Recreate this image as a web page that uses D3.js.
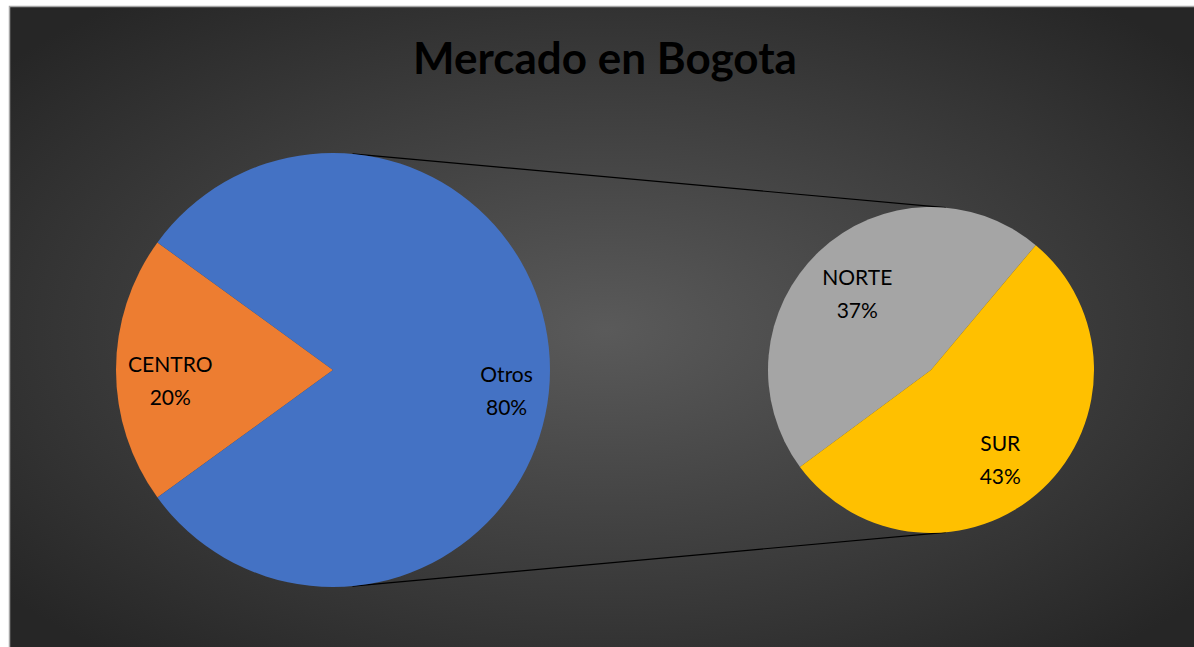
<!DOCTYPE html>
<html>
<head>
<meta charset="utf-8">
<script src="https://cdn.jsdelivr.net/npm/d3@7"></script>
<style>
  html, body { margin: 0; padding: 0; background: #fff; }
  svg { display: block; }
</style>
</head>
<body>
<svg></svg>
<script>
/** Chart data */
let mainCategories = ['CENTRO', 'Otros'];
let mainValues = [20, 80];
let subCategories = ['NORTE', 'SUR'];
let subValues = [37, 43];
let mainLabels = ['20%', '80%'];
let subLabels = ['37%', '43%'];
let colors = ['#ED7D31', '#4472C4'];
let subColors = ['#A5A5A5', '#FFC000'];

let width = 1194;
let height = 647;

let mainCenter = [333, 370];
let mainRadius = 217;
let subCenter = [931, 370];
let subRadius = 163;

let svg = d3.select('svg').attr('width', width).attr('height', height);

const deg = Math.PI / 180;

/** Background panel with a radial gradient */
const drawBackground = () => {
    let grad = svg.append('defs').append('radialGradient')
        .attr('id', 'bg')
        .attr('cx', '50%').attr('cy', '50%').attr('r', '65%');
    grad.append('stop').attr('offset', '0%').attr('stop-color', '#5a5a5a');
    grad.append('stop').attr('offset', '100%').attr('stop-color', '#262626');

    svg.append('rect')
        .attr('x', 9.5).attr('y', 6.5)
        .attr('width', width).attr('height', height)
        .attr('fill', 'url(#bg)')
        .attr('stroke', '#a6a6a6')
        .attr('stroke-width', 1.5);
};

/** Title */
const drawTitle = () => {
    svg.append('text')
        .attr('x', 605).attr('y', 74)
        .attr('text-anchor', 'middle')
        .attr('font-family', 'Lato, "Open Sans", sans-serif')
        .attr('font-weight', 'bold')
        .attr('font-size', 44)
        .attr('fill', '#000')
        .text('Mercado en Bogota');
};

/** Connector lines: outer tangents between the two pies */
const drawConnectors = () => {
    let d = subCenter[0] - mainCenter[0];
    let a = Math.asin((mainRadius - subRadius) / d);
    [a, Math.PI - a].forEach(ang => {
        let p1 = [mainCenter[0] + mainRadius * Math.sin(ang), mainCenter[1] - mainRadius * Math.cos(ang)];
        let p2 = [subCenter[0] + subRadius * Math.sin(ang), subCenter[1] - subRadius * Math.cos(ang)];
        svg.append('line')
            .attr('x1', p1[0]).attr('y1', p1[1])
            .attr('x2', p2[0]).attr('y2', p2[1])
            .attr('stroke', '#000')
            .attr('stroke-width', 1.2);
    });
};

/** Draw one pie with its labels (labelPos: radius fraction, labelDy: vertical nudge) */
const drawPie = (cats, vals, pcts, cols, center, radius, startDeg, labelPos, labelDy) => {
    let pie = d3.pie().sort(null)
        .startAngle(startDeg * deg)
        .endAngle(startDeg * deg + 2 * Math.PI);
    let arc = d3.arc().innerRadius(0).outerRadius(radius);

    let g = svg.append('g').attr('transform', `translate(${center[0]}, ${center[1]})`);
    let arcs = pie(vals);

    g.selectAll('path')
        .data(arcs)
        .enter()
        .append('path')
        .attr('d', arc)
        .attr('fill', (item, i) => cols[i]);

    arcs.forEach((item, i) => {
        let r = radius * labelPos[i];
        let labelArc = d3.arc().innerRadius(r).outerRadius(r);
        let c = labelArc.centroid(item);
        let y = c[1] + labelDy[i];
        let t = g.append('text')
            .attr('text-anchor', 'middle')
            .attr('font-family', 'Lato, "Open Sans", sans-serif')
            .attr('font-size', 21)
            .attr('fill', '#000');
        t.append('tspan').attr('x', c[0]).attr('y', y + 2).text(cats[i]);
        t.append('tspan').attr('x', c[0]).attr('y', y + 35).text(pcts[i]);
    });
};

drawBackground();
drawTitle();
drawConnectors();
drawPie(mainCategories, mainValues, mainLabels, colors, mainCenter, mainRadius, 234, [0.75, 0.8], [0, 10]);
drawPie(subCategories, subValues, subLabels, subColors, subCenter, subRadius, -126.5, [0.66, 0.62], [-9, 5]);
</script>
</body>
</html>
